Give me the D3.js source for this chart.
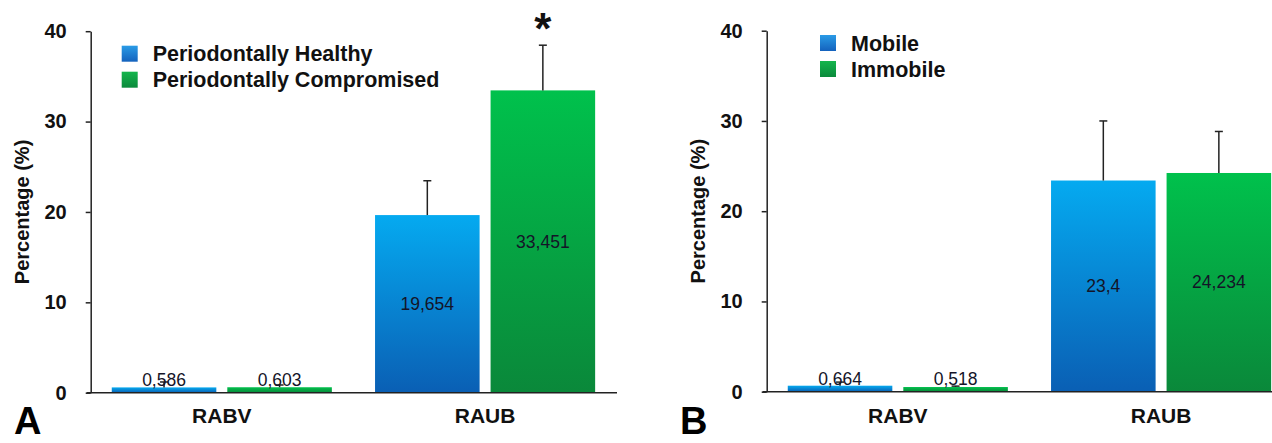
<!DOCTYPE html>
<html>
<head>
<meta charset="utf-8">
<script src="https://cdn.jsdelivr.net/npm/d3@7"></script>
<style>
  body { margin: 0; background: #fff; }
  svg { display: block; font-family: "Liberation Sans", Arial, sans-serif; }
</style>
</head>
<body>
<svg id="chart" width="1272" height="443"></svg>
<script>
// data
var categories = ["RABV", "RAUB"];
var yTicks = [0, 10, 20, 30, 40];

var legendA = ["Periodontally Healthy", "Periodontally Compromised"];
var healthy = [0.586, 19.654];
var compromised = [0.603, 33.451];
var healthyErr = [0.6, 3.8];
var compromisedErr = [0.25, 5.0];

var legendB = ["Mobile", "Immobile"];
var mobile = [0.664, 23.4];
var immobile = [0.518, 24.234];
var mobileErr = [0.4, 6.6];
var immobileErr = [0.1, 4.6];

var svg = d3.select("#chart");

var defs = svg.append("defs");
function grad(id, top, bottom) {
    var g = defs.append("linearGradient").attr("id", id)
        .attr("x1", 0).attr("y1", 0).attr("x2", 0).attr("y2", 1);
    g.append("stop").attr("offset", "0%").attr("stop-color", top);
    g.append("stop").attr("offset", "100%").attr("stop-color", bottom);
}
grad("blue", "#05aaf0", "#0a5fb4");
grad("green", "#00c14c", "#0a883a");
grad("blueLeg", "#2a9be6", "#1462bd");
grad("greenLeg", "#14b54c", "#0b8a3c");
var fills = ["url(#blue)", "url(#green)"];
var legFills = ["url(#blueLeg)", "url(#greenLeg)"];

var fmt = v => String(v).replace(".", ",");

function panel(opt) {
    var g = svg.append("g").attr("transform", `translate(${opt.dx},0)`);
    var axisX = 90.7;

    var y = d3.scaleLinear().domain([0, 40]).range(opt.yRange);

    var x = d3.scaleBand()
        .domain(categories)
        .range([axisX, axisX + 525.5])
        .paddingInner(0.164)
        .paddingOuter(0.08);

    var xs = d3.scaleBand()
        .domain([0, 1])
        .range([0, x.bandwidth()])
        .paddingInner(0.095);

    var rows = categories.map((c, i) => ({
        cat: c,
        vals: opt.series.map((s, k) => ({k: k, v: s[i], e: opt.errs[k][i]}))
    }));

    var groups = g.selectAll("g.grp")
        .data(rows)
        .enter().append("g")
        .attr("class", "grp")
        .attr("transform", d => `translate(${x(d.cat)},0)`);

    groups.selectAll("rect")
        .data(d => d.vals)
        .enter().append("rect")
        .attr("x", d => xs(d.k))
        .attr("y", d => y(d.v))
        .attr("width", xs.bandwidth())
        .attr("height", d => y(0) - y(d.v))
        .attr("fill", d => fills[d.k]);

    // error bars (upper only)
    var err = groups.selectAll("g.err")
        .data(d => d.vals)
        .enter().append("g")
        .attr("class", "err")
        .attr("stroke", "#222")
        .attr("stroke-width", 1.5);
    err.append("line")
        .attr("x1", d => xs(d.k) + xs.bandwidth() / 2)
        .attr("x2", d => xs(d.k) + xs.bandwidth() / 2)
        .attr("y1", d => y(d.v))
        .attr("y2", d => y(d.v + d.e));
    err.append("line")
        .attr("x1", d => xs(d.k) + xs.bandwidth() / 2 - 4)
        .attr("x2", d => xs(d.k) + xs.bandwidth() / 2 + 4)
        .attr("y1", d => y(d.v + d.e))
        .attr("y2", d => y(d.v + d.e));

    // value labels
    groups.selectAll("text.val")
        .data(d => d.vals)
        .enter().append("text")
        .attr("class", "val")
        .attr("x", d => xs(d.k) + xs.bandwidth() / 2)
        .attr("y", d => (y(0) - y(d.v) < 30) ? y(0) - 7 : (y(d.v) + y(0)) / 2 + 6)
        .attr("text-anchor", "middle")
        .style("font-size", "17.5px")
        .attr("fill", "#141428")
        .text(d => fmt(d.v));

    // y axis
    var yAxis = g.append("g")
        .attr("transform", `translate(${axisX},0)`)
        .call(d3.axisLeft(y).tickValues(yTicks).tickSize(5).tickSizeOuter(0).tickPadding(19));
    yAxis.selectAll("path, line").attr("stroke", "#222").attr("stroke-width", 1.5);
    yAxis.selectAll("text")
        .attr("fill", "#111")
        .style("font-size", "20px")
        .style("font-weight", "bold")
        .style("font-family", "'Liberation Sans', Arial, sans-serif");

    // baseline
    g.append("line")
        .attr("x1", axisX - 4).attr("x2", axisX + 526.3)
        .attr("y1", y(0)).attr("y2", y(0))
        .attr("stroke", "#222").attr("stroke-width", 1.5);

    // category labels
    g.selectAll("text.cat")
        .data(categories)
        .enter().append("text")
        .attr("class", "cat")
        .attr("x", d => x(d) + x.bandwidth() / 2)
        .attr("y", 423)
        .attr("text-anchor", "middle")
        .style("font-size", "21px")
        .style("font-weight", "bold")
        .attr("fill", "#111")
        .text(d => d);

    // y title
    g.append("text")
        .attr("transform", `translate(${axisX - 62},${(y(0) + y(40)) / 2}) rotate(-90)`)
        .attr("text-anchor", "middle")
        .style("font-size", "20px")
        .style("font-weight", "bold")
        .attr("fill", "#111")
        .text("Percentage (%)");

    // legend
    var leg = g.selectAll("g.leg")
        .data(opt.legend)
        .enter().append("g")
        .attr("class", "leg")
        .attr("transform", (d, i) => `translate(${opt.legX},${opt.legY + i * 26})`);
    leg.append("rect")
        .attr("width", 16).attr("height", 16)
        .attr("fill", (d, i) => legFills[i]);
    leg.append("text")
        .attr("x", 31).attr("y", 15.5)
        .style("font-size", "21.5px")
        .style("font-weight", "bold")
        .attr("fill", "#111")
        .text(d => d);

    // panel letter
    g.append("text")
        .attr("x", opt.letterX).attr("y", 434)
        .style("font-size", "38px")
        .style("font-weight", "bold")
        .attr("fill", "#000")
        .text(opt.letter);

    return {g: g, x: x, xs: xs, y: y};
}

var pA = panel({
    dx: 0, yRange: [392.7, 31.2], series: [healthy, compromised],
    errs: [healthyErr, compromisedErr], legend: legendA,
    legX: 121.7, legY: 45.7, letter: "A", letterX: 14
});

// significance star over compromised RAUB
pA.g.append("text")
    .attr("x", pA.x("RAUB") + pA.xs(1) + pA.xs.bandwidth() / 2)
    .attr("y", 44)
    .attr("text-anchor", "middle")
    .style("font-size", "44px")
    .style("font-weight", "bold")
    .attr("fill", "#111")
    .text("*");

panel({
    dx: 676, yRange: [391.7, 30.7], series: [mobile, immobile],
    errs: [mobileErr, immobileErr], legend: legendB,
    legX: 144, legY: 35, letter: "B", letterX: 4
});
</script>
</body>
</html>
